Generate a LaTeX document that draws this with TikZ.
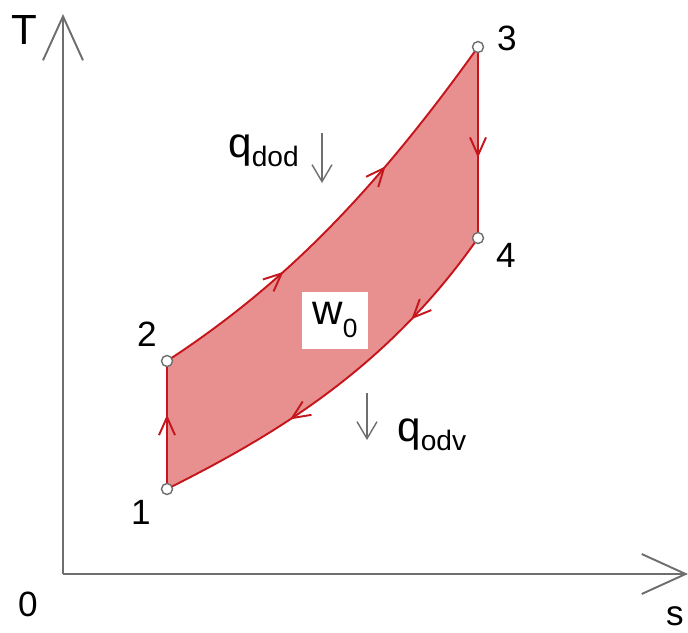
\documentclass[tikz,border=0pt]{standalone}
\usepackage{fontspec}
\setmainfont{Liberation Sans}
\usepackage{tikz}
\usetikzlibrary{arrows.meta,decorations.markings}
\definecolor{cycred}{HTML}{C4161C}
\definecolor{cycfill}{HTML}{E8908F}
\definecolor{axgray}{HTML}{6E6E6E}
\newcommand\lowsub[3]{\raisebox{-#1}{\fontsize{#2}{#2}\selectfont #3}}
\tikzset{
  cycbarb/.tip={Straight Barb[length=3.6mm,width=3.2mm]},
  axisline/.style={draw=axgray,line width=1.1pt,-{Straight Barb[length=8.8mm,width=8mm]}},
  cycedge/.style={draw=cycred,line width=1.1pt},
  flowmark/.style={postaction={decorate,decoration={markings,mark=at position #1 with {\arrow[cycred]{cycbarb}}}}},
  statept/.style={circle,draw=axgray,fill=white,line width=0.8pt,inner sep=0pt,minimum size=2.2mm},
  ptlabel/.style={font=\fontsize{20}{24}\selectfont,inner sep=0pt},
  heatlabel/.style={font=\fontsize{24}{28}\selectfont,anchor=base west,inner sep=0pt},
  heatarrow/.style={draw=axgray,line width=0.8pt,-{Straight Barb[length=3.4mm,width=4mm]}},
  workbox/.style={fill=white,minimum width=1.32cm,minimum height=1.14cm,inner sep=0pt,font=\fontsize{24}{28}\selectfont}
}
\begin{document}
\begin{tikzpicture}[x=0.02cm,y=-0.02cm]
\useasboundingbox (0,0) rectangle (688,632);
\coordinate (orig) at (63,574);
\coordinate (tend) at (63,14);
\coordinate (send) at (688,574);
\draw[axisline] (orig) -- (tend);
\draw[axisline] (orig) -- (send);
\node[ptlabel,font=\fontsize{24}{28}\selectfont] (lT) at (24,30) {T};
\node[ptlabel] (l0) at (28,604) {0};
\node[ptlabel] (ls) at (675,616) {s};
\coordinate (c1) at (167,489);
\coordinate (c2) at (167,361);
\coordinate (c3) at (478,47);
\coordinate (c4) at (478,238);
\fill[cycfill] (c1) -- (c2) .. controls (277,289) and (368,201) .. (c3) -- (c4) .. controls (388,367) and (277,434) .. (c1) -- cycle;
\draw[cycedge,flowmark=0.58] (c1) -- (c2);
\draw[cycedge,flowmark=0.33,flowmark=0.66] (c2) .. controls (277,289) and (368,201) .. (c3);
\draw[cycedge,flowmark=0.58] (c3) -- (c4);
\draw[cycedge,flowmark=0.26,flowmark=0.65] (c4) .. controls (388,367) and (277,434) .. (c1);
\foreach \n in {1,...,4}{\node[statept] (p\n) at (c\n) {};}
\node[ptlabel] (l1) at (141,512) {1};
\node[ptlabel] (l2) at (147,334) {2};
\node[ptlabel] (l3) at (507,38) {3};
\node[ptlabel] (l4) at (506,255) {4};
\node[workbox] (w0) at (335,320) {w\lowsub{7pt}{15}{0}};
\node[heatlabel] (qdod) at (228,157) {q\lowsub{5.5pt}{16}{dod}};
\node[heatlabel] (qodv) at (397,441) {q\lowsub{5.5pt}{16}{odv}};
\coordinate (qin1) at (322,133);
\coordinate (qin2) at (322,183);
\coordinate (qout1) at (367,393);
\coordinate (qout2) at (367,440);
\draw[heatarrow] (qin1) -- (qin2);
\draw[heatarrow] (qout1) -- (qout2);
\end{tikzpicture}
\end{document}
